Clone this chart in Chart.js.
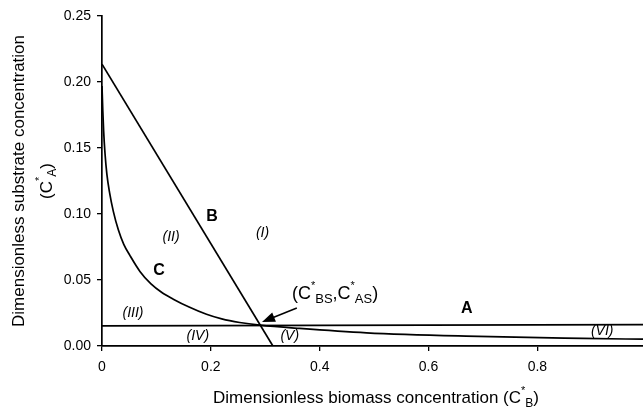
<!DOCTYPE html>
<html>
<head>
<meta charset="utf-8">
<script src="https://cdn.jsdelivr.net/npm/chart.js@4/dist/chart.umd.min.js"></script>
<style>
  html, body { margin: 0; padding: 0; background: #fff; overflow: hidden; }
  canvas { display: block; }
</style>
</head>
<body>
<canvas id="chart" width="643" height="408"></canvas>
<script>
// Line A (nearly flat), line B (straight), curve C (hyperbolic)
const lineAX = [0, 1];
const lineAY = [0.0153, 0.0162];
const lineBX = [0, 0.314];
const lineBY = [0.2135, 0];
const curveCX = [0, 0.0015, 0.003, 0.0055, 0.009, 0.014, 0.0208, 0.03, 0.04, 0.0514, 0.0697, 0.09, 0.11, 0.131, 0.16, 0.192, 0.22, 0.253, 0.29, 0.363, 0.486, 0.669, 0.883, 1.0];
const curveCY = [0.197, 0.178, 0.163, 0.146, 0.130, 0.116, 0.102, 0.088, 0.077, 0.0685, 0.0565, 0.047, 0.0405, 0.0355, 0.0295, 0.024, 0.0205, 0.0178, 0.0158, 0.0133, 0.0100, 0.0075, 0.0058, 0.0051];

// tick settings
const xTickStep = 0.2;
const yTickStep = 0.05;

// text labels in data coordinates
const curveLabels = ['A', 'B', 'C'];
const curveLabelX = [0.670, 0.202, 0.105];
const curveLabelY = [0.028, 0.0977, 0.0568];
const regionLabels = ['(I)', '(II)', '(III)', '(IV)', '(V)', '(VI)'];
const regionLabelX = [0.295, 0.127, 0.057, 0.176, 0.345, 0.919];
const regionLabelY = [0.0856, 0.0826, 0.025, 0.0076, 0.0076, 0.0114];

const FONT = '"Liberation Sans", Arial, sans-serif';

function toPoints(xs, ys) {
    return xs.map((x, i) => ({ x: x, y: ys[i] }));
}

// draws text pieces with super/subscripts
function drawRich(ctx, parts, x, y, align) {
    var widths = parts.map((p) => {
        ctx.font = (p.style || '') + ' ' + p.size + 'px ' + FONT;
        return ctx.measureText(p.t).width;
    });
    var total = widths.reduce((a, b) => a + b, 0);
    var cx = align === 'center' ? x - total / 2 : x;
    ctx.textAlign = 'left';
    ctx.textBaseline = 'alphabetic';
    parts.forEach((p, i) => {
        ctx.font = (p.style || '') + ' ' + p.size + 'px ' + FONT;
        ctx.fillText(p.t, cx, y + (p.dy || 0));
        cx += widths[i];
    });
}

const textPlugin = {
    id: 'textPlugin',
    afterDraw(chart) {
        const ctx = chart.ctx;
        const xs = chart.scales.x;
        const ys = chart.scales.y;
        ctx.save();
        ctx.fillStyle = '#000';

        // x axis title
        drawRich(ctx, [
            { t: 'Dimensionless biomass concentration (C', size: 17 },
            { t: '*', size: 11, dy: -9 },
            { t: 'B', size: 12, dy: 4 },
            { t: ')', size: 17 }
        ], 376, 403, 'center');

        // y axis title, two lines, rotated
        ctx.save();
        ctx.translate(24, 181);
        ctx.rotate(-Math.PI / 2);
        drawRich(ctx, [{ t: 'Dimensionless substrate concentration', size: 17 }], 0, 0, 'center');
        ctx.restore();
        ctx.save();
        ctx.translate(52, 181);
        ctx.rotate(-Math.PI / 2);
        drawRich(ctx, [
            { t: '(C', size: 17 },
            { t: '*', size: 11, dy: -9 },
            { t: 'A', size: 12, dy: 4 },
            { t: ')', size: 17 }
        ], 0, 0, 'center');
        ctx.restore();

        // curve labels
        ctx.textAlign = 'center';
        ctx.textBaseline = 'middle';
        ctx.font = 'bold 16px ' + FONT;
        curveLabels.forEach((t, i) => {
            ctx.fillText(t, xs.getPixelForValue(curveLabelX[i]), ys.getPixelForValue(curveLabelY[i]));
        });

        // region labels
        ctx.font = 'italic 14px ' + FONT;
        regionLabels.forEach((t, i) => {
            ctx.fillText(t, xs.getPixelForValue(regionLabelX[i]), ys.getPixelForValue(regionLabelY[i]));
        });

        // steady state point label and arrow
        drawRich(ctx, [
            { t: '(C', size: 18 },
            { t: '*', size: 11, dy: -10 },
            { t: 'BS', size: 13, dy: 4 },
            { t: ',C', size: 18 },
            { t: '*', size: 11, dy: -10 },
            { t: 'AS', size: 13, dy: 4 },
            { t: ')', size: 18 }
        ], xs.getPixelForValue(0.349), ys.getPixelForValue(0.0355), 'left');

        var x1 = xs.getPixelForValue(0.358), y1 = ys.getPixelForValue(0.0288);
        var x2 = xs.getPixelForValue(0.294), y2 = ys.getPixelForValue(0.0182);
        var ang = Math.atan2(y2 - y1, x2 - x1);
        ctx.strokeStyle = '#000';
        ctx.lineWidth = 1.5;
        ctx.beginPath();
        ctx.moveTo(x1, y1);
        ctx.lineTo(x2 - 10 * Math.cos(ang), y2 - 10 * Math.sin(ang));
        ctx.stroke();
        ctx.beginPath();
        ctx.moveTo(x2, y2);
        ctx.lineTo(x2 - 13 * Math.cos(ang) + 5 * Math.sin(ang), y2 - 13 * Math.sin(ang) - 5 * Math.cos(ang));
        ctx.lineTo(x2 - 13 * Math.cos(ang) - 5 * Math.sin(ang), y2 - 13 * Math.sin(ang) + 5 * Math.cos(ang));
        ctx.closePath();
        ctx.fillStyle = '#000';
        ctx.fill();
        ctx.restore();
    }
};

const lineStyle = { showLine: true, borderColor: '#000', borderWidth: 1.7, pointRadius: 0, fill: false };

new Chart(document.getElementById('chart'), {
    type: 'scatter',
    data: {
        datasets: [
            Object.assign({ label: 'A', data: toPoints(lineAX, lineAY) }, lineStyle),
            Object.assign({ label: 'B', data: toPoints(lineBX, lineBY) }, lineStyle),
            Object.assign({ label: 'C', data: toPoints(curveCX, curveCY), cubicInterpolationMode: 'monotone' }, lineStyle)
        ]
    },
    options: {
        responsive: false,
        animation: false,
        layout: { padding: { top: 16, right: 0, left: 0, bottom: 0 } },
        plugins: { legend: { display: false }, tooltip: { enabled: false } },
        scales: {
            x: {
                type: 'linear',
                min: 0,
                max: 0.994,
                ticks: {
                    stepSize: xTickStep,
                    includeBounds: false,
                    maxRotation: 0,
                    padding: 8,
                    color: '#000',
                    font: { family: FONT, size: 14 },
                    callback: (v) => v === 0 ? '0' : v.toFixed(1)
                },
                grid: { drawOnChartArea: false, drawTicks: true, tickLength: 5, color: '#000', lineWidth: 1.3 },
                border: { display: true, color: '#000', width: 1.7 },
                afterFit: (s) => { s.height = 62; }
            },
            y: {
                type: 'linear',
                min: 0,
                max: 0.25,
                ticks: {
                    stepSize: yTickStep,
                    padding: 6,
                    color: '#000',
                    font: { family: FONT, size: 14 },
                    callback: (v) => v.toFixed(2)
                },
                grid: { drawOnChartArea: false, drawTicks: true, tickLength: 5, color: '#000', lineWidth: 1.3 },
                border: { display: true, color: '#000', width: 1.7 },
                afterFit: (s) => { s.width = 102; }
            }
        }
    },
    plugins: [textPlugin]
});
</script>
</body>
</html>
